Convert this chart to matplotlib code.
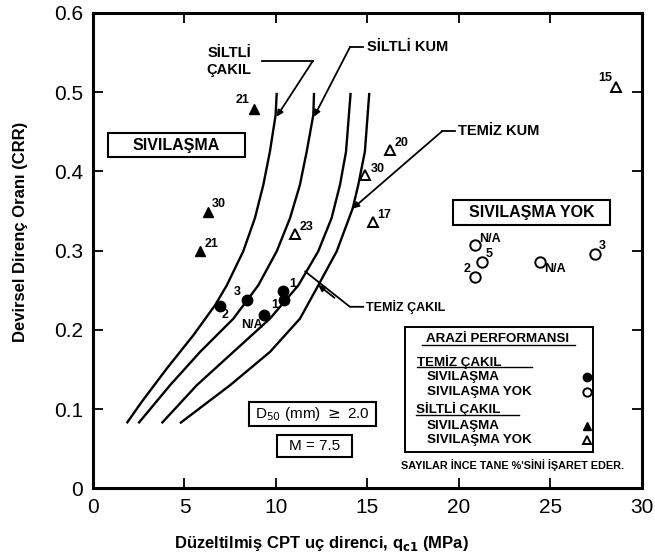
import matplotlib
matplotlib.use("Agg")
import matplotlib.pyplot as plt
from matplotlib.patches import Rectangle

plt.rcParams['font.family'] = ['Liberation Sans', 'DejaVu Sans']

# ---------------- data ----------------
# boundary curves (qc1 in MPa, CRR)
siltli_cakil_x = [1.84, 2.66, 4.03, 5.48, 6.67, 7.31, 8.21, 8.85, 9.31, 9.67, 9.98, 10.04]
siltli_cakil_y = [0.082, 0.109, 0.151, 0.193, 0.231, 0.256, 0.299, 0.341, 0.383, 0.425, 0.471, 0.499]

siltli_kum_x = [2.48, 4.21, 5.85, 7.67, 9.03, 10.04, 10.77, 11.31, 11.68, 12.04, 12.08]
siltli_kum_y = [0.082, 0.130, 0.172, 0.214, 0.256, 0.299, 0.341, 0.383, 0.425, 0.471, 0.499]

temiz_cakil_x = [3.75, 5.67, 7.67, 9.67, 11.22, 12.31, 13.04, 13.50, 13.83, 14.08]
temiz_cakil_y = [0.082, 0.130, 0.172, 0.214, 0.256, 0.299, 0.341, 0.383, 0.425, 0.499]

temiz_kum_x = [4.75, 7.49, 9.67, 11.31, 12.31, 13.32, 14.19, 14.50, 14.86, 15.10]
temiz_kum_y = [0.082, 0.130, 0.172, 0.214, 0.256, 0.299, 0.353, 0.383, 0.425, 0.499]

# field performance points
tc_liq_x = [6.94, 8.40, 9.34, 10.40, 10.44]
tc_liq_y = [0.230, 0.238, 0.219, 0.249, 0.237]
tc_liq_lbl = ['2', '3', 'N/A', '1', '1']

tc_noliq_x = [20.87, 21.24, 20.87, 24.43, 27.43]
tc_noliq_y = [0.307, 0.286, 0.267, 0.286, 0.296]
tc_noliq_lbl = ['N/A', '5', '2', 'N/A', '3']

sc_liq_x = [8.80, 6.29, 5.85]
sc_liq_y = [0.479, 0.349, 0.299]
sc_liq_lbl = ['21', '30', '21']

sc_noliq_x = [11.04, 16.23, 14.86, 15.32, 28.6]
sc_noliq_y = [0.321, 0.427, 0.395, 0.336, 0.507]
sc_noliq_lbl = ['23', '20', '30', '17', '15']

x_ticks = [0, 5, 10, 15, 20, 25, 30]
y_ticks = [0, 0.1, 0.2, 0.3, 0.4, 0.5, 0.6]
y_ticklabels = ['0', '0.1', '0.2', '0.3', '0.4', '0.5', '0.6']

# ---------------- figure ----------------
fig = plt.figure(figsize=(6.55, 5.58), dpi=100)
ax = fig.add_axes([0.142, 0.125, 0.838, 0.852])
ax.set_xlim(0, 30)
ax.set_ylim(0, 0.6)

for s in ax.spines.values():
    s.set_linewidth(2.2)

ax.set_xticks(x_ticks)
ax.set_yticks(y_ticks)
ax.set_yticklabels(y_ticklabels)
ax.tick_params(direction='in', length=7, width=1.3, top=True, right=True,
               labelsize=15, pad=7)

ax.set_xlabel('Düzeltilmiş CPT uç direnci, q$_{\\mathbf{c1}}$ (MPa)',
              fontsize=12, fontweight='bold')
ax.set_ylabel('Devirsel Direnç Oranı (CRR)', fontsize=12, fontweight='bold')
ax.xaxis.set_label_coords(0.417, -0.097)
ax.yaxis.set_label_coords(-0.118, 0.54)

lw = 1.7
for cx, cy in [(siltli_cakil_x, siltli_cakil_y), (siltli_kum_x, siltli_kum_y),
               (temiz_cakil_x, temiz_cakil_y), (temiz_kum_x, temiz_kum_y)]:
    ax.plot(cx, cy, color='black', lw=lw, solid_capstyle='butt', solid_joinstyle='round')

# markers
ax.plot(tc_liq_x, tc_liq_y, 'o', color='black', ms=7.5)
ax.plot(tc_noliq_x, tc_noliq_y, 'o', mfc='white', mec='black', mew=1.4, ms=7.5)
ax.plot(sc_liq_x, sc_liq_y, '^', color='black', ms=7.5)
ax.plot(sc_noliq_x, sc_noliq_y, '^', mfc='white', mec='black', mew=1.4, ms=7.5)

lblfs = 9
def lab(x, y, t, dx, dy, ha, va):
    ax.annotate(t, (x, y), xytext=(dx, dy), textcoords='offset points',
                ha=ha, va=va, fontsize=lblfs, fontweight='bold')

tc_liq_off = [(1, -2, 'left', 'top'), (-4, 1, 'right', 'bottom'), (-1, -3, 'right', 'top'),
              (4, 1, 'left', 'bottom'), (-4, -3, 'right', 'center')]
for x, y, t, o in zip(tc_liq_x, tc_liq_y, tc_liq_lbl, tc_liq_off):
    lab(x, y, t, *o)
tc_noliq_off = [(3, 0, 'left', 'bottom'), (3, 1, 'left', 'bottom'), (-3, 1, 'right', 'bottom'),
                (3, -1, 'left', 'top'), (3, 1, 'left', 'bottom')]
for x, y, t, o in zip(tc_noliq_x, tc_noliq_y, tc_noliq_lbl, tc_noliq_off):
    lab(x, y, t, *o)
sc_liq_off = [(-3, 2, 'right', 'bottom'), (3, 1, 'left', 'bottom'), (3, 1, 'left', 'bottom')]
for x, y, t, o in zip(sc_liq_x, sc_liq_y, sc_liq_lbl, sc_liq_off):
    lab(x, y, t, *o)
sc_noliq_off = [(3, 1, 'left', 'bottom'), (3, 1, 'left', 'bottom'), (4, 0, 'left', 'bottom'),
                (3, 1, 'left', 'bottom'), (-3, 2, 'right', 'bottom')]
for x, y, t, o in zip(sc_noliq_x, sc_noliq_y, sc_noliq_lbl, sc_noliq_off):
    lab(x, y, t, *o)

# curve labels with leaders
txtfs = 10.5
def leader(pts, end):
    xs = [p[0] for p in pts]
    ys = [p[1] for p in pts]
    ax.plot(xs, ys, color='black', lw=1.3)
    ax.annotate('', xy=end, xytext=pts[-1],
                arrowprops=dict(arrowstyle='-|>', color='black', lw=1.3,
                                mutation_scale=9, shrinkA=0, shrinkB=0))

ax.text(7.45, 0.539, 'SİLTLİ\nÇAKIL', fontsize=txtfs, fontweight='bold',
        ha='center', va='center', linespacing=1.25)
leader([(9.23, 0.5395), (12.02, 0.5395)], (10.04, 0.469))

ax.text(15.0, 0.557, 'SİLTLİ KUM', fontsize=txtfs, fontweight='bold', ha='left', va='center')
leader([(14.75, 0.557), (14.05, 0.557)], (12.08, 0.469))

ax.text(19.95, 0.451, 'TEMİZ KUM', fontsize=txtfs, fontweight='bold', ha='left', va='center')
leader([(19.8, 0.451), (19.1, 0.451)], (14.19, 0.353))

ax.text(14.9, 0.229, 'TEMİZ ÇAKIL', fontsize=9, fontweight='bold', ha='left', va='center')
ax.plot([14.77, 14.04, 11.6], [0.229, 0.229, 0.2735], color='black', lw=1.3)
ax.annotate('', xy=(12.31, 0.2565), xytext=(13.2, 0.2403),
            arrowprops=dict(arrowstyle='-|>', color='black', lw=1.3,
                            mutation_scale=9, shrinkA=0, shrinkB=0))

# region boxes
def boxed(x0, x1, y0, y1, text, fs, weight):
    ax.add_patch(Rectangle((x0, y0), x1 - x0, y1 - y0, fc='white', ec='black', lw=1.5, zorder=5))
    ax.text((x0 + x1) / 2, (y0 + y1) / 2, text, fontsize=fs, fontweight=weight,
            ha='center', va='center', zorder=6)

boxed(0.82, 8.3, 0.418, 0.448, 'SIVILAŞMA', 11.5, 'bold')
boxed(19.67, 28.25, 0.332, 0.364, 'SIVILAŞMA YOK', 11.5, 'bold')
boxed(8.52, 15.46, 0.079, 0.109, 'D$_{50}$ (mm) $\\geq$ 2.0', 11, 'normal')
boxed(10.05, 14.15, 0.039, 0.067, 'M = 7.5', 11, 'normal')

# legend box
ax.add_patch(Rectangle((17.05, 0.0455), 10.27, 0.158, fill=False, ec='black', lw=1.4, zorder=4))
lfs = 9.6
ax.text(22.1, 0.188, 'ARAZİ PERFORMANSI', fontsize=lfs, fontweight='bold', ha='center', va='center')
ax.plot([17.98, 26.34], [0.1805, 0.1805], color='black', lw=1.0)
ax.text(17.7, 0.159, 'TEMİZ ÇAKIL', fontsize=lfs, fontweight='bold', ha='left', va='center')
ax.plot([17.7, 24.0], [0.1525, 0.1525], color='black', lw=1.0)
ax.text(18.25, 0.140, 'SIVILAŞMA', fontsize=lfs, fontweight='bold', ha='left', va='center')
ax.text(18.25, 0.121, 'SIVILAŞMA YOK', fontsize=lfs, fontweight='bold', ha='left', va='center')
ax.text(17.65, 0.0998, 'SİLTLİ ÇAKIL', fontsize=lfs, fontweight='bold', ha='left', va='center')
ax.plot([17.65, 23.3], [0.0925, 0.0925], color='black', lw=1.0)
ax.text(18.25, 0.078, 'SIVILAŞMA', fontsize=lfs, fontweight='bold', ha='left', va='center')
ax.text(18.25, 0.0606, 'SIVILAŞMA YOK', fontsize=lfs, fontweight='bold', ha='left', va='center')
ax.plot([27.0], [0.140], 'o', color='black', ms=6)
ax.plot([27.0], [0.121], 'o', mfc='white', mec='black', mew=1.4, ms=6)
ax.plot([27.0], [0.078], '^', color='black', ms=6)
ax.plot([27.0], [0.0606], '^', mfc='white', mec='black', mew=1.4, ms=6)

ax.text(22.95, 0.029, "SAYILAR İNCE TANE %'SİNİ İŞARET EDER.", fontsize=7.8, fontweight='bold',
        ha='center', va='center')

fig.savefig('out.png', dpi=100)
